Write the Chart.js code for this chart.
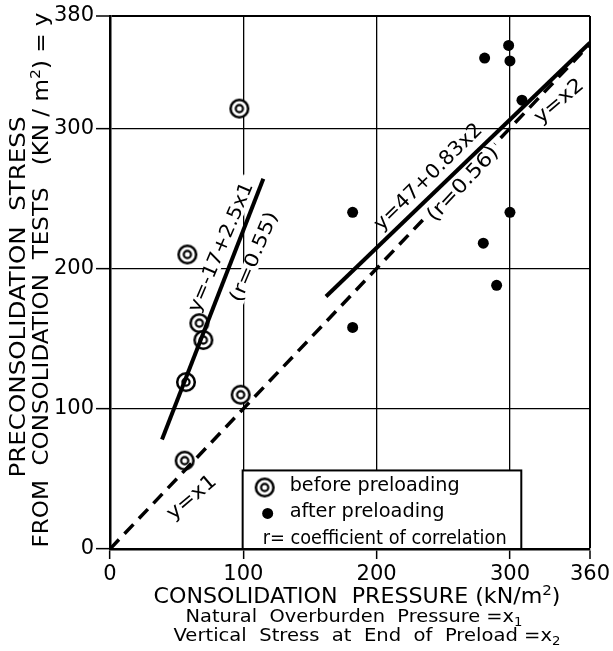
<!DOCTYPE html>
<html><head><meta charset="utf-8">
<script src="https://cdn.jsdelivr.net/npm/chart.js@4.4.1/dist/chart.umd.min.js"></script>
<style>html,body{margin:0;padding:0;background:#fff;}#wrap{width:613px;height:651px;}</style>
</head><body><div id="wrap"><canvas id="c" width="613" height="651"></canvas></div>
<script>
// ---- data ----
const xTicks = [0, 100, 200, 300, 360];
const yTicks = [0, 100, 200, 300, 380];
const beforeX = [97, 58, 67, 70, 57, 98, 56];
const beforeY = [314, 210, 161, 149, 119, 110, 63];
const afterX = [299, 281, 300, 309, 182, 300, 280, 290, 182];
const afterY = [359, 350, 348, 320, 240, 240, 218, 188, 158];
const fit1X = [39, 115];  const fit1Y = [78, 264];
const fit2X = [162, 360]; const fit2Y = [180, 361];
const eqX = [0, 360];     const eqY = [0, 360];

const FONT = '"DejaVu Sans", sans-serif';
function fontStr(s){ return s + 'px ' + FONT; }
function zip(xs, ys){ return xs.map((x,i)=>({x:x, y:ys[i]})); }

// double-circle marker
function makeRing(){
  const c = document.createElement('canvas'); c.width = 24; c.height = 24;
  const g = c.getContext('2d');
  g.fillStyle = '#fff'; g.strokeStyle = '#000'; g.lineWidth = 2.5;
  g.beginPath(); g.arc(12, 12, 8.8, 0, Math.PI*2); g.fill(); g.stroke();
  g.lineWidth = 2.2; g.beginPath(); g.arc(12, 12, 3.6, 0, Math.PI*2); g.stroke();
  return c;
}
const ring = makeRing();

// ---- rich text helpers ----
function richWidth(ctx, parts, size){
  let w = 0;
  for (const p of parts){ ctx.font = fontStr(p.s ? size*0.68 : size); w += ctx.measureText(p.t).width; }
  return w;
}
function drawRich(ctx, parts, size, x, y){
  let cx = x;
  for (const p of parts){
    const fs = p.s ? size*0.68 : size;
    ctx.font = fontStr(fs);
    let dy = 0;
    if (p.s === 'sup') dy = -size*0.33;
    if (p.s === 'sub') dy = size*0.3;
    ctx.fillText(p.t, cx, y + dy);
    cx += ctx.measureText(p.t).width;
  }
}
function drawLabel(ctx, parts, size, cx, cy, angleDeg, targetW, bg){
  ctx.save();
  ctx.translate(cx, cy);
  ctx.rotate(angleDeg*Math.PI/180);
  const w = richWidth(ctx, parts, size);
  const sx = targetW ? targetW / w : 1;
  ctx.scale(sx, 1);
  if (bg){ ctx.fillStyle = '#fff'; ctx.fillRect(-w/2 - bg, -size*0.42, w + 2*bg, size*0.84); }
  else {
    ctx.fillStyle = '#000'; ctx.textBaseline = 'middle'; ctx.textAlign = 'left';
    drawRich(ctx, parts, size, -w/2, 0);
  }
  ctx.restore();
}

// annotations along lines (data coordinates)
const notes = [
  {parts:[{t:'y=-17+2.5x1'}], x:83.5, y:215, a:-67, size:19, w:139, early:true},
  {parts:[{t:'(r=0.55)'}],    x:108.5, y:208, a:-67, size:19, w:96, early:true},
  {parts:[{t:'y=47+0.83x2'}], x:239, y:265, a:-44.5, size:20, w:143},
  {parts:[{t:'(r=0.56)'}],    x:265, y:260, a:-47, size:20, w:95, late:true},
  {parts:[{t:'y=x2'}],        x:337, y:319, a:-40, size:20, w:58},
  {parts:[{t:'y=x1'}],        x:61.5, y:36.5, a:-40, size:20, w:58}
];

const annot = {
  id: 'annot',
  beforeDatasetsDraw(chart){
    const ctx = chart.ctx, xs = chart.scales.x, ys = chart.scales.y;
    for (const n of notes){
      if (n.early) drawLabel(ctx, n.parts, n.size, xs.getPixelForValue(n.x), ys.getPixelForValue(n.y), n.a, n.w, 6);
    }
    // legend box
    const L = xs.getPixelForValue(99.5), R = xs.getPixelForValue(308.5);
    const T = ys.getPixelForValue(56), B = chart.chartArea.bottom;
    ctx.save();
    ctx.fillStyle = '#fff'; ctx.fillRect(L, T, R-L, B-T);
    ctx.strokeStyle = '#000'; ctx.lineWidth = 2; ctx.strokeRect(L, T, R-L, B-T);
    ctx.drawImage(ring, L + 22 - 12, T + 17 - 12);
    ctx.fillStyle = '#000';
    ctx.beginPath(); ctx.arc(L + 25, T + 43, 5.5, 0, Math.PI*2); ctx.fill();
    ctx.restore();
    drawLabel(ctx, [{t:'before preloading'}], 19, L + 47 + 85, T + 16, 0, 170);
    drawLabel(ctx, [{t:'after preloading'}], 19, L + 47 + 77.5, T + 42, 0, 155);
    drawLabel(ctx, [{t:'r= coefficient of correlation'}], 19, L + 20 + 122, T + 69, 0, 244);
  },
  afterDatasetsDraw(chart){
    const ctx = chart.ctx, xs = chart.scales.x, ys = chart.scales.y;
    for (const n of notes){
      const px = xs.getPixelForValue(n.x), py = ys.getPixelForValue(n.y);
      if (n.late) drawLabel(ctx, n.parts, n.size, px, py, n.a, n.w, 3);
      drawLabel(ctx, n.parts, n.size, px, py, n.a, n.w, 0);
    }
  },
  afterDraw(chart){
    const ctx = chart.ctx;
    drawLabel(ctx, [{t:'CONSOLIDATION  PRESSURE (kN/m'},{t:'2',s:'sup'},{t:')'}], 21, 357, 598, 0, 407);
    drawLabel(ctx, [{t:'Natural  Overburden  Pressure =x'},{t:'1',s:'sub'}], 17, 354, 618, 0, 337);
    drawLabel(ctx, [{t:'Vertical  Stress  at  End  of  Preload =x'},{t:'2',s:'sub'}], 17, 367, 637, 0, 387);
    drawLabel(ctx, [{t:'PRECONSOLIDATION  STRESS'}], 21, 20, 297, -90, 361);
    drawLabel(ctx, [{t:'FROM  CONSOLIDATION  TESTS   (KN / m'},{t:'2',s:'sup'},{t:') = y'}], 21, 43, 280, -90, 535);
  }
};

const gridW = (c) => (c.tick && (c.tick.value === 380 || c.tick.value === 360)) ? 2 : 1.3;

new Chart(document.getElementById('c'), {
  type: 'scatter',
  data: {
    datasets: [
      {label:'before preloading', data: zip(beforeX, beforeY), pointStyle: ring, pointRadius: 9, order: 2},
      {label:'after preloading', data: zip(afterX, afterY), pointStyle: 'circle', pointRadius: 5.5,
        backgroundColor:'#000', borderColor:'#000', borderWidth:0, order: 2},
      {label:'fit1', type:'line', data: zip(fit1X, fit1Y), borderColor:'#000', borderWidth:4,
        pointRadius:0, fill:false, order: 1},
      {label:'fit2', type:'line', data: zip(fit2X, fit2Y), borderColor:'#000', borderWidth:4,
        pointRadius:0, fill:false, order: 1},
      {label:'y=x', type:'line', data: zip(eqX, eqY), borderColor:'#000', borderWidth:3.5,
        borderDash:[13,8], pointRadius:0, fill:false, order: 1}
    ]
  },
  options: {
    responsive: false, animation: false, devicePixelRatio: 1,
    layout: {padding: {left: 0, right: 22, top: 16, bottom: 0}},
    plugins: {legend: {display:false}, tooltip: {enabled:false}},
    scales: {
      x: {
        type:'linear', min:0, max:360,
        afterBuildTicks: s => { s.ticks = xTicks.map(v => ({value:v})); },
        afterFit: s => { s.height = 102; },
        ticks: {font:{family:FONT, size:21}, color:'#000', padding:3, maxRotation:0, autoSkip:false},
        grid: {color:'#000', lineWidth: gridW, tickLength:10, tickWidth:1.5},
        border: {display:true, color:'#000', width:2.5}
      },
      y: {
        type:'linear', min:0, max:380,
        afterBuildTicks: s => { s.ticks = yTicks.map(v => ({value:v})); },
        afterFit: s => { s.width = 110; },
        ticks: {font:{family:FONT, size:21}, color:'#000', padding:2, autoSkip:false},
        grid: {color:'#000', lineWidth: gridW, tickLength:14, tickWidth:1.5},
        border: {display:true, color:'#000', width:2.5}
      }
    }
  },
  plugins: [annot]
});
</script>
</body></html>
